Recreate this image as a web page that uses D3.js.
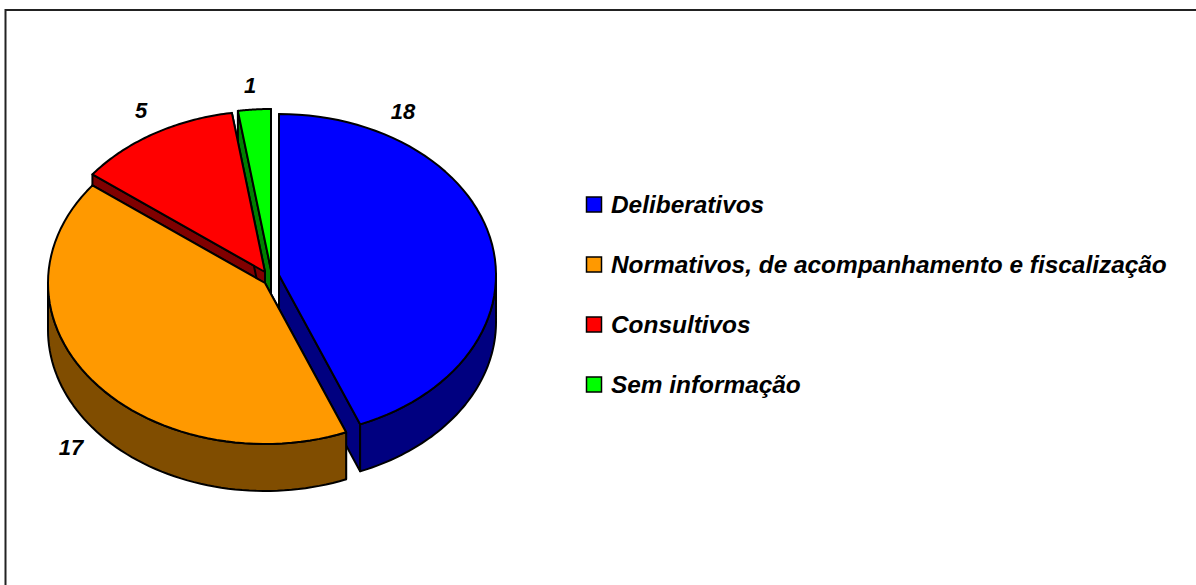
<!DOCTYPE html>
<html><head><meta charset="utf-8">
<script src="https://cdnjs.cloudflare.com/ajax/libs/d3/7.8.5/d3.min.js"></script>
<style>html,body{margin:0;background:#fff}svg{display:block}text{font-family:"Liberation Sans",Arial,sans-serif;font-weight:bold;font-style:italic;fill:#000}</style>
</head><body><svg id="c" width="1196" height="585"></svg>
<script>
const categories=["Deliberativos","Normativos, de acompanhamento e fiscalização","Consultivos","Sem informação"];
const values=[18,17,5,1];
const topColors=["#0000ff","#ff9900","#ff0000","#00ff00"];
const wallColors=["#000080","#804d00","#800000","#008000"];
const centerX=[279,265,265,271];
const centerY=[275,283,272,270];
const labelX=[403,71,141,250];
const labelY=[111,447,110,85];
const drawOrder=[0,3,2,1];
const rx=217,ry=161,depth=47;

const svg=d3.select("#c");
svg.append("path").attr("d","M5.5,585V10H1196").attr("fill","none").attr("stroke","#222").attr("stroke-width",2);

const arcs=d3.pie().sort(null).value(d=>d)(values);
const line=d3.line();
function proj(i,a,dz=0){return [centerX[i]+rx*Math.sin(a),centerY[i]-ry*Math.cos(a)+dz];}
function samples(a0,a1){return d3.range(0,61).map(k=>a0+(a1-a0)*k/60);}
const sty=(s,f)=>s.attr("fill",f).attr("stroke","#000").attr("stroke-width",2).attr("stroke-linejoin","round");

drawOrder.forEach(i=>{
  const {startAngle:a0,endAngle:a1}=arcs[i];
  const g=svg.append("g");
  const apex=[centerX[i],centerY[i]],apexB=[centerX[i],centerY[i]+depth];
  [a0,a1].forEach(a=>{
    g.append("path").attr("d",line([apex,proj(i,a),proj(i,a,depth),apexB])+"Z").call(sty,wallColors[i]);
  });
  const w0=Math.max(a0,Math.PI/2),w1=Math.min(a1,Math.PI*1.5);
  if(w1>w0){
    const t=samples(w0,w1);
    g.append("path").attr("d",line(t.map(a=>proj(i,a)).concat(t.slice().reverse().map(a=>proj(i,a,depth))))+"Z").call(sty,wallColors[i]);
  }
  const t=samples(a0,a1);
  g.append("path").attr("d",line([apex].concat(t.map(a=>proj(i,a))))+"Z").call(sty,topColors[i]);
});

values.forEach((v,i)=>{
  svg.append("text").attr("x",labelX[i]).attr("y",labelY[i]).attr("text-anchor","middle").attr("dominant-baseline","central").attr("font-size",22).text(v);
});

const legendY=d3.scalePoint().domain(categories).range([205,385]);
categories.forEach((c,i)=>{
  const y=legendY(c);
  svg.append("rect").attr("x",586.5).attr("y",y-8).attr("width",15).attr("height",15).attr("fill",topColors[i]).attr("stroke","#000").attr("stroke-width",1.5);
  svg.append("text").attr("x",611).attr("y",y+8).attr("font-size",24.4).text(c);
});
</script></body></html>
